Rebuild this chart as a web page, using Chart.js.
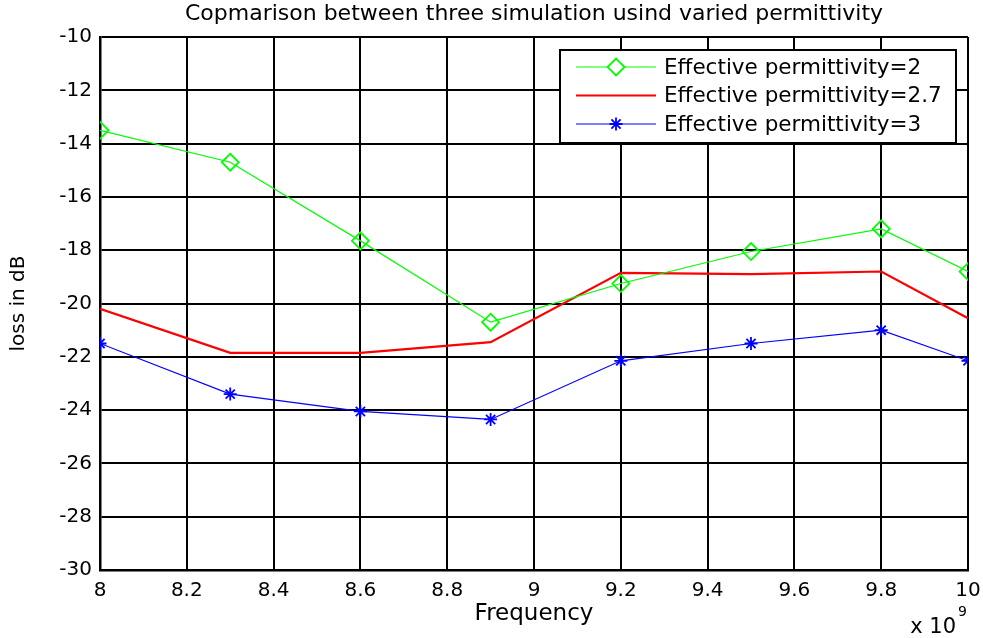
<!DOCTYPE html>
<html lang="en">
<head>
    <meta charset="UTF-8">
    <title>Copmarison between three simulation usind varied permittivity</title>
    <script src="https://cdn.jsdelivr.net/npm/chart.js"></script>
    <style>
        body {
            margin: 0;
            background: #fff;
        }
        .wrap {
            width: 983px;
            height: 638px;
            position: relative;
        }
    </style>
</head>
<body>
    <div class="wrap">
        <canvas id="lossChart"></canvas>
    </div>

    <script>
        // Values (frequency in units of 1e9 Hz)
        const frequency = [8, 8.3, 8.6, 8.9, 9.2, 9.5, 9.8, 10];
        const lossEps2 = [-13.5, -14.7, -17.65, -20.7, -19.25, -18.05, -17.2, -18.8];
        const lossEps27 = [-20.2, -21.85, -21.85, -21.45, -18.85, -18.9, -18.8, -20.55];
        const lossEps3 = [-21.5, -23.4, -24.05, -24.35, -22.15, -21.5, -21.0, -22.15];
        const seriesLabels = ['Effective permittivity=2', 'Effective permittivity=2.7', 'Effective permittivity=3'];
        const chartTitle = 'Copmarison between three simulation usind varied permittivity';

        const font = '"DejaVu Sans", Verdana, sans-serif';
        const toPoints = vals => vals.map((v, i) => ({ x: frequency[i], y: v }));

        // Title centred over the plot area (MATLAB puts it there, not over the canvas)
        const plotTitle = {
            id: 'plotTitle',
            afterDraw(chart) {
                const ctx = chart.ctx;
                const area = chart.chartArea;
                ctx.save();
                ctx.fillStyle = '#000';
                ctx.font = '22px ' + font;
                ctx.textAlign = 'center';
                ctx.textBaseline = 'middle';
                ctx.fillText(chartTitle, (area.left + area.right) / 2, area.top - 23);
                ctx.restore();
            }
        };

        // Legend box inside the plot, MATLAB style
        const boxLegend = {
            id: 'boxLegend',
            afterDraw(chart) {
                const ctx = chart.ctx;
                const area = chart.chartArea;
                const w = 396, h = 93;
                const x0 = area.right - 12 - w;
                const y0 = area.top + 13;
                ctx.save();
                ctx.fillStyle = '#fff';
                ctx.fillRect(x0, y0, w, h);
                ctx.strokeStyle = '#000';
                ctx.lineWidth = 2;
                ctx.strokeRect(x0, y0, w, h);
                ctx.font = '21.5px ' + font;
                ctx.textBaseline = 'middle';
                chart.data.datasets.forEach((ds, i) => {
                    const y = y0 + 17 + i * 28.5;
                    ctx.strokeStyle = ds.borderColor;
                    ctx.lineWidth = ds.borderWidth;
                    ctx.beginPath();
                    ctx.moveTo(x0 + 16, y);
                    ctx.lineTo(x0 + 96, y);
                    ctx.stroke();
                    if (ds.pointStyle) {
                        ctx.lineWidth = ds.pointBorderWidth;
                        Chart.helpers.drawPoint(ctx, {
                            pointStyle: ds.pointStyle,
                            radius: ds.pointRadius,
                            borderWidth: ds.pointBorderWidth,
                            rotation: 0
                        }, x0 + 56, y);
                    }
                    ctx.fillStyle = '#000';
                    ctx.fillText(ds.label, x0 + 104, y + 1);
                });
                ctx.restore();
            }
        };

        // "x 10^9" exponent label under the right end of the x axis
        const exponentLabel = {
            id: 'exponentLabel',
            afterDraw(chart) {
                const ctx = chart.ctx;
                const area = chart.chartArea;
                ctx.save();
                ctx.fillStyle = '#000';
                ctx.textBaseline = 'alphabetic';
                ctx.font = '21px ' + font;
                ctx.textAlign = 'right';
                ctx.fillText('x 10', area.right - 12, area.bottom + 63);
                ctx.font = '14px ' + font;
                ctx.textAlign = 'left';
                ctx.fillText('9', area.right - 10, area.bottom + 46);
                ctx.restore();
            }
        };

        const ctx = document.getElementById('lossChart').getContext('2d');
        new Chart(ctx, {
            type: 'line',
            data: {
                datasets: [
                    {
                        label: seriesLabels[0],
                        data: toPoints(lossEps2),
                        borderColor: '#00ff00',
                        borderWidth: 1.2,
                        pointStyle: 'rectRot',
                        pointRadius: 8.5,
                        pointBorderWidth: 1.8,
                        pointBorderColor: '#00ff00',
                        pointBackgroundColor: 'rgba(0,0,0,0)',
                        tension: 0
                    },
                    {
                        label: seriesLabels[1],
                        data: toPoints(lossEps27),
                        borderColor: '#ff0000',
                        borderWidth: 2.2,
                        pointRadius: 0,
                        tension: 0
                    },
                    {
                        label: seriesLabels[2],
                        data: toPoints(lossEps3),
                        borderColor: '#0000ff',
                        borderWidth: 1.2,
                        pointStyle: 'star',
                        pointRadius: 6.5,
                        pointBorderWidth: 1.8,
                        pointBorderColor: '#0000ff',
                        pointBackgroundColor: '#0000ff',
                        tension: 0
                    }
                ]
            },
            options: {
                responsive: true,
                maintainAspectRatio: false,
                animation: false,
                layout: { padding: { left: 0, right: 15, top: 37, bottom: 0 } },
                plugins: {
                    legend: { display: false },
                    tooltip: { enabled: false },
                    title: { display: false }
                },
                scales: {
                    x: {
                        type: 'linear',
                        min: 8,
                        max: 10,
                        ticks: {
                            stepSize: 0.2,
                            color: '#000',
                            font: { family: font, size: 20 },
                            padding: 9,
                            maxRotation: 0,
                            callback: v => String(Number(v.toFixed(1)))
                        },
                        grid: { color: '#000', lineWidth: 2, drawTicks: false },
                        border: { color: '#000', width: 2.5 },
                        title: {
                            display: true,
                            text: 'Frequency',
                            color: '#000',
                            font: { family: font, size: 23 },
                            padding: { top: 0, bottom: 10 }
                        },
                        afterFit: scale => {
                            scale.height = 68;
                            scale.paddingLeft = 0;
                            scale.paddingRight = 0;
                        }
                    },
                    y: {
                        min: -30,
                        max: -10,
                        ticks: {
                            stepSize: 2,
                            color: '#000',
                            font: { family: font, size: 20 },
                            padding: 8
                        },
                        grid: { color: '#000', lineWidth: 2, drawTicks: false },
                        border: { color: '#000', width: 2.5 },
                        title: {
                            display: true,
                            text: 'loss in dB',
                            color: '#000',
                            font: { family: font, size: 20 },
                            padding: { top: 7, bottom: 0 }
                        },
                        afterFit: scale => {
                            scale.width = 100;
                            scale.paddingTop = 0;
                            scale.paddingBottom = 0;
                        }
                    }
                }
            },
            plugins: [plotTitle, boxLegend, exponentLabel]
        });
    </script>
</body>
</html>
